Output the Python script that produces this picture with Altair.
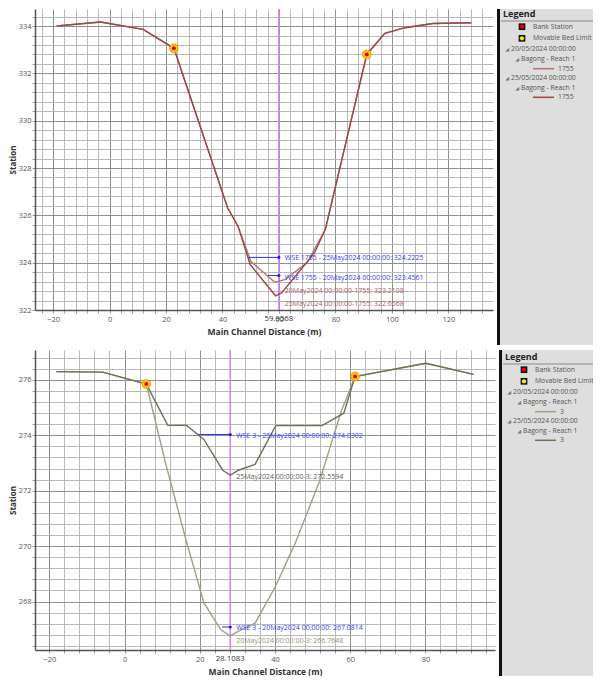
import altair as alt
import pandas as pd
import numpy as np

FONT = "Open Sans"

# ---------------- TOP PANEL : XS 1755 ----------------
t_left_x = [-18.7, -3.2, 11.9, 22.8, 41.8, 45.5]
t_left_y = [334.00, 334.17, 333.86, 333.06, 326.32, 325.54]
t_20_x = [50.0, 58.5, 62.0, 70.0]
t_20_y = [324.06, 323.17, 323.28, 324.00]
t_25_x = [49.8, 58.8, 61.0, 72.5]
t_25_y = [323.92, 322.60, 322.73, 324.40]
t_right_x = [76.4, 91.1, 97.5, 104.6, 114.5, 128.1]
t_right_y = [325.40, 332.80, 333.69, 333.93, 334.11, 334.14]
t_bank_x = [22.8, 91.1]
t_bank_y = [333.06, 332.80]
t_cut = 59.9568
t_wse = [324.2225, 323.4561]          # 25May, 20May
t_wse_start = [49.2, 56.1]
t_bed = [323.2108, 322.6568]          # 20May, 25May
t_xticks = list(range(-24, 136, 4))
t_yticks = [round(v, 1) for v in np.arange(322.0, 334.8, 0.4)]

# ---------------- BOTTOM PANEL : XS 3 ----------------
b_left_x = [-18.15, -5.8, 5.8]
b_left_y = [276.30, 276.28, 275.85]
b_25_x = [11.5, 16.5, 21.1, 26.1, 28.1, 30.3, 34.7, 40.2, 52.5, 58.3]
b_25_y = [274.36, 274.36, 273.85, 272.74, 272.56, 272.74, 272.95, 274.35, 274.35, 274.80]
b_20_x = [10.9, 16.5, 21.1, 25.6, 28.1, 30.7, 34.7, 40.2, 45.3, 51.9, 57.6]
b_20_y = [273.00, 270.15, 267.96, 266.98, 266.76, 266.96, 267.22, 268.56, 270.08, 272.36, 274.86]
b_right_x = [61.3, 80.1, 92.8]
b_right_y = [276.12, 276.60, 276.20]
b_bank_x = [5.8, 61.3]
b_bank_y = [275.85, 276.12]
b_cut = 28.1083
b_wse = [274.0302, 267.0814]          # 25May, 20May
b_wse_start = [19.7, 25.9]
b_bed = [272.5594, 266.7648]          # 25May, 20May
b_xticks = list(range(-20, 100, 4))
b_yticks = [round(v, 1) for v in np.arange(266.4, 277.2, 0.4)]

S20 = "20/05/2024 00:00:00"
S25 = "25/05/2024 00:00:00"

MAJ = "#8e8e8e"
MIN = "#b9b9b9"


def xenc(dom, ticks, major):
    test = f"abs(datum.value % {major}) < 0.001"
    return alt.X("x:Q", scale=alt.Scale(domain=dom, nice=False, zero=False),
                 axis=alt.Axis(values=ticks, title="Main Channel Distance (m)",
                               labelExpr=f"{test} ? format(datum.value, 'd') : ''",
                               gridColor={"condition": {"test": test, "value": MAJ}, "value": MIN},
                               grid=True, gridWidth=1, tickSize=3, tickColor="#999",
                               domainColor="#555", domainWidth=1.5, labelFontSize=7.5, labelColor="#555",
                               labelPadding=2, labelFlush=False, labelOverlap=False,
                               titleFontSize=8.5, titleFontWeight="bold", titleColor="#333", titlePadding=5))


def yenc(dom, ticks):
    test = "abs(datum.value/2 - round(datum.value/2)) < 0.01"
    return alt.Y("y:Q", scale=alt.Scale(domain=dom, nice=False, zero=False),
                 axis=alt.Axis(values=ticks, title="Station",
                               labelExpr=f"{test} ? format(datum.value, '.0f') : ''",
                               gridColor={"condition": {"test": test, "value": MAJ}, "value": MIN},
                               grid=True, gridWidth=1, tickSize=3, tickColor="#999",
                               domainColor="#555", domainWidth=1.5, labelFontSize=7.5, labelColor="#555",
                               labelPadding=1, labelFlush=False, labelOverlap=False,
                               titleFontSize=8, titleFontWeight="bold", titleColor="#333", titlePadding=1))


def plot_panel(p):
    X = xenc(p["xdom"], p["xticks"], 20)
    Y = yenc(p["ydom"], p["yticks"])
    layers = []
    cut = pd.DataFrame({"x": [p["cut"]]})
    layers.append(alt.Chart(cut).mark_rule(color="#dd80ee", strokeWidth=1.5).encode(x=X))
    for name, mx, my, col in [(S20, p["x20"], p["y20"], p["colors"][0]),
                              (S25, p["x25"], p["y25"], p["colors"][1])]:
        xs = p["lx"] + mx + p["rx"]
        ys = p["ly"] + my + p["ry"]
        d = pd.DataFrame({"x": xs, "y": ys, "idx": list(range(len(xs)))})
        layers.append(alt.Chart(d).mark_line(strokeWidth=1.4, color=col).encode(x=X, y=Y, order="idx:Q"))
    wse = pd.DataFrame({"x": p["wse_start"], "x2": [p["cut"]] * 2, "y": p["wse"]})
    layers.append(alt.Chart(wse).mark_rule(color="#3030ff", strokeWidth=1).encode(x=X, x2="x2:Q", y=Y))
    wd = pd.DataFrame({"x": [p["cut"]] * 2, "y": p["wse"]})
    layers.append(alt.Chart(wd).mark_point(filled=True, color="#2020ee", size=10, opacity=1).encode(x=X, y=Y))
    banks = pd.DataFrame({"x": p["bank_x"], "y": p["bank_y"]})
    layers.append(alt.Chart(banks).mark_point(shape="circle", filled=True, fill="#ffd000", stroke="#f5a000",
                                              strokeWidth=1.2, size=70, opacity=1).encode(x=X, y=Y))
    layers.append(alt.Chart(banks).mark_point(shape="circle", filled=True, color="#e00000", size=16,
                                              opacity=1).encode(x=X, y=Y))
    layers.append(alt.Chart(cut).mark_text(fontSize=7.8, color="#333", baseline="middle", font=FONT).encode(
        x=X, y=alt.value(p["h"] + 9), text=alt.value(f"{p['cut']:.4f}")))
    for lab in p["labels"]:
        d = pd.DataFrame({"x": [p["cut"]], "y": [lab["y"]], "t": [lab["text"]]})
        layers.append(alt.Chart(d).mark_text(align="left", baseline="middle", dx=6, dy=lab["dy"],
                                             fontSize=7, color=lab["color"], font=FONT).encode(
            x=X, y=Y, text="t:N"))
    return alt.layer(*layers).properties(width=p["w"], height=p["h"])


def legend_panel(p, LW, LH, base):
    one = pd.DataFrame({"a": [0]})
    bg = alt.Chart(one).mark_rect(color="#dedede").encode(
        x=alt.value(0), x2=alt.value(LW), y=alt.value(0), y2=alt.value(LH))
    bar = alt.Chart(one).mark_rect(color="#111111").encode(
        x=alt.value(0), x2=alt.value(3), y=alt.value(0), y2=alt.value(LH))
    under = alt.Chart(one).mark_rule(color="#8a8a8a", strokeWidth=1).encode(
        x=alt.value(4), x2=alt.value(LW), y=alt.value(base + 7))
    title = alt.Chart(one).mark_text(align="left", baseline="middle", fontSize=9, fontWeight="bold",
                                     color="#222", font=FONT).encode(
        x=alt.value(6), y=alt.value(base), text=alt.value("Legend"))
    off = [12.7, 24.3, 35.3, 45.3, 54.7, 64.3, 74.3, 83.3]
    icons = pd.DataFrame({"fill": ["#ee0000", "#ffee00"], "yy": [base + off[0], base + off[1]],
                          "t": ["Bank Station", "Movable Bed Limit"]})
    box = alt.Chart(icons).mark_square(size=45, color="#111", opacity=1).encode(
        x=alt.value(25), y=alt.Y("yy:Q", scale=None))
    dot = alt.Chart(icons).mark_circle(size=18, opacity=1).encode(
        x=alt.value(25), y=alt.Y("yy:Q", scale=None), color=alt.Color("fill:N", scale=None))
    itxt = alt.Chart(icons).mark_text(align="left", baseline="middle", fontSize=6.8, color="#555",
                                      font=FONT, clip=True).encode(
        x=alt.value(36), y=alt.Y("yy:Q", scale=None), text="t:N")
    tree = pd.DataFrame({
        "t": [S20, "Bagong - Reach 1", S25, "Bagong - Reach 1"],
        "xx": [14, 24, 14, 24],
        "yy": [base + off[2], base + off[3], base + off[5], base + off[6]],
    })
    ttxt = alt.Chart(tree).mark_text(align="left", baseline="middle", fontSize=6.8, color="#555",
                                     font=FONT, clip=True).encode(
        x=alt.X("xx:Q", scale=None), y=alt.Y("yy:Q", scale=None), text="t:N")
    tri = alt.Chart(tree).mark_text(align="right", baseline="middle", fontSize=5, color="#777",
                                    font="DejaVu Sans", dx=-2).encode(
        x=alt.X("xx:Q", scale=None), y=alt.Y("yy:Q", scale=None), text=alt.value("◢"))
    ser = pd.DataFrame({"c": p["colors"], "yy": [base + off[4], base + off[7]],
                        "t": [p["name"], p["name"]]})
    sl = alt.Chart(ser).mark_rule(strokeWidth=1.5).encode(
        x=alt.value(36), x2=alt.value(57), y=alt.Y("yy:Q", scale=None), color=alt.Color("c:N", scale=None))
    st = alt.Chart(ser).mark_text(align="left", baseline="middle", fontSize=6.8, color="#555",
                                  font=FONT).encode(x=alt.value(61), y=alt.Y("yy:Q", scale=None), text="t:N")
    return alt.layer(bg, bar, under, title, box, dot, itxt, tri, ttxt, sl, st).properties(width=LW, height=LH)


top = dict(
    lx=t_left_x, ly=t_left_y, x20=t_20_x, y20=t_20_y, x25=t_25_x, y25=t_25_y, rx=t_right_x, ry=t_right_y,
    bank_x=t_bank_x, bank_y=t_bank_y, cut=t_cut, wse=t_wse, wse_start=t_wse_start,
    xdom=[-26.4, 135.8], ydom=[322.0, 334.72], xticks=t_xticks, yticks=t_yticks,
    colors=["#b8716e", "#9a4946"], w=458, h=301, name="1755",
    labels=[
        {"y": t_wse[0], "text": f"WSE 1755 - 25May2024 00:00:00: {t_wse[0]:.4f}", "dy": 1, "color": "#3a3aff"},
        {"y": t_wse[1], "text": f"WSE 1755 - 20May2024 00:00:00: {t_wse[1]:.4f}", "dy": 2.5, "color": "#3a3aff"},
        {"y": t_bed[0], "text": f"20May2024 00:00:00-1755: {t_bed[0]:.4f}", "dy": 10, "color": "#a86262"},
        {"y": t_bed[1], "text": f"25May2024 00:00:00-1755: {t_bed[1]:.4f}", "dy": 10, "color": "#a05a5a"},
    ],
)
bot = dict(
    lx=b_left_x, ly=b_left_y, x20=b_20_x, y20=b_20_y, x25=b_25_x, y25=b_25_y, rx=b_right_x, ry=b_right_y,
    bank_x=b_bank_x, bank_y=b_bank_y, cut=b_cut, wse=b_wse, wse_start=b_wse_start,
    xdom=[-23.8, 98.5], ydom=[266.25, 277.08], xticks=b_xticks, yticks=b_yticks,
    colors=["#9ca385", "#6c7356"], w=460, h=300, name="3",
    labels=[
        {"y": b_wse[0], "text": f"WSE 3 - 25May2024 00:00:00: {b_wse[0]:.4f}", "dy": 1.5, "color": "#3a3aff"},
        {"y": b_bed[0], "text": f"25May2024 00:00:00-3: {b_bed[0]:.4f}", "dy": 1.5, "color": "#5c6150"},
        {"y": b_wse[1], "text": f"WSE 3 - 20May2024 00:00:00: {b_wse[1]:.4f}", "dy": 1.2, "color": "#3a3aff"},
        {"y": b_bed[1], "text": f"20May2024 00:00:00-3: {b_bed[1]:.4f}", "dy": 5, "color": "#8f9676"},
    ],
)

row1 = alt.hconcat(plot_panel(top), legend_panel(top, 96, 336, 5), spacing=4)
row2 = alt.hconcat(plot_panel(bot), legend_panel(bot, 94, 326, 7), spacing=4)

chart = alt.vconcat(row1, row2, spacing=4).properties(
    padding={"left": 1, "top": 0, "right": 0, "bottom": 0}, background="white"
).configure_view(stroke=None).configure_axis(labelFont=FONT, titleFont=FONT)

chart.save("out.html", embed_options={"renderer": "svg", "actions": False})
